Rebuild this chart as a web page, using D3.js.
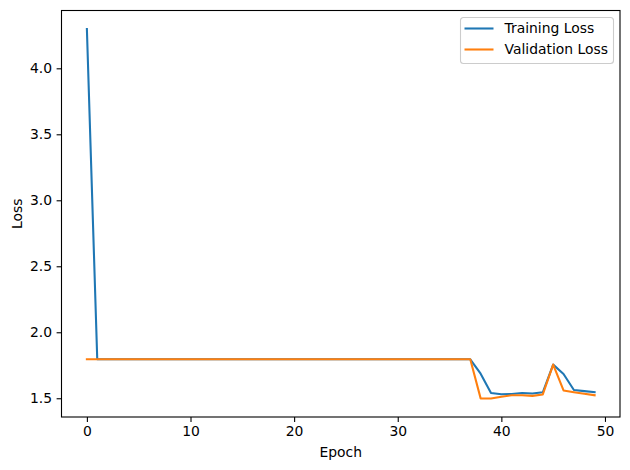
<!DOCTYPE html>
<html>
<head>
<meta charset="utf-8">
<script src="https://cdn.jsdelivr.net/npm/d3@7"></script>
<style>
  body { margin: 0; background: #fff; }
  svg text { font-family: "DejaVu Sans", sans-serif; fill: #000; }
</style>
</head>
<body>
<div id="chart"></div>
<script>
// loss per epoch
const epochs = [0,1,2,3,4,5,6,7,8,9,10,11,12,13,14,15,16,17,18,19,20,21,22,23,24,
  25,26,27,28,29,30,31,32,33,34,35,36,37,38,39,40,41,42,43,44,45,46,47,48,49];
const trainLoss = [4.298,1.795,1.795,1.795,1.795,1.795,1.795,1.795,1.795,1.795,
  1.795,1.795,1.795,1.795,1.795,1.795,1.795,1.795,1.795,1.795,
  1.795,1.795,1.795,1.795,1.795,1.795,1.795,1.795,1.795,1.795,
  1.795,1.795,1.795,1.795,1.795,1.795,1.795,1.795,1.686,1.540,
  1.530,1.532,1.540,1.536,1.545,1.755,1.684,1.563,1.554,1.546];
const valLoss = [1.795,1.795,1.795,1.795,1.795,1.795,1.795,1.795,1.795,1.795,
  1.795,1.795,1.795,1.795,1.795,1.795,1.795,1.795,1.795,1.795,
  1.795,1.795,1.795,1.795,1.795,1.795,1.795,1.795,1.795,1.795,
  1.795,1.795,1.795,1.795,1.795,1.795,1.795,1.795,1.499,1.498,
  1.511,1.523,1.523,1.518,1.529,1.755,1.559,1.546,1.534,1.523];
const xTicks = [0, 10, 20, 30, 40, 50];
const yTicks = [1.5, 2.0, 2.5, 3.0, 3.5, 4.0];
const seriesNames = ["Training Loss", "Validation Loss"];
const colors = ["#1f77b4", "#ff7f0e"];

const width = 630, height = 470;
const margin = {left: 61.5, right: 10, top: 10.5, bottom: 53};
const plotW = width - margin.left - margin.right;
const plotH = height - margin.top - margin.bottom;

const svg = d3.select("#chart").append("svg")
    .attr("width", width)
    .attr("height", height);

// matplotlib style 5% padding
const xExt = d3.extent(epochs);
const xPad = (xExt[1] - xExt[0]) * 0.05;
const allY = trainLoss.concat(valLoss);
const yExt = d3.extent(allY);
const yPad = (yExt[1] - yExt[0]) * 0.05;

const x = d3.scaleLinear()
    .domain([xExt[0] - xPad, xExt[1] + xPad])
    .range([margin.left, margin.left + plotW]);
const y = d3.scaleLinear()
    .domain([yExt[0] - yPad, yExt[1] + yPad])
    .range([margin.top + plotH, margin.top]);

const xAxis = svg.append("g")
    .attr("transform", `translate(0,${margin.top + plotH})`)
    .call(d3.axisBottom(x).tickValues(xTicks).tickSize(4.9).tickPadding(4.5).tickFormat(d3.format("d")));
const yAxis = svg.append("g")
    .attr("transform", `translate(${margin.left},0)`)
    .call(d3.axisLeft(y).tickValues(yTicks).tickSize(4.9).tickPadding(4.5).tickFormat(d3.format(".1f")));

for (const ax of [xAxis, yAxis]) {
    ax.select(".domain").remove();
    ax.selectAll(".tick line").attr("stroke", "#000").attr("stroke-width", 1.1);
    ax.selectAll(".tick text").attr("font-size", "13.9px").attr("fill", "#000");
}

const line = d3.line()
    .x((d, i) => x(epochs[i]))
    .y(d => y(d));

const series = [trainLoss, valLoss];
svg.append("g")
    .selectAll("path")
    .data(series)
    .enter()
    .append("path")
    .attr("d", line)
    .attr("fill", "none")
    .attr("stroke", (d, i) => colors[i])
    .attr("stroke-width", 2.08)
    .attr("stroke-linejoin", "round")
    .attr("stroke-linecap", "square");

// frame
svg.append("rect")
    .attr("x", margin.left)
    .attr("y", margin.top)
    .attr("width", plotW)
    .attr("height", plotH)
    .attr("fill", "none")
    .attr("stroke", "#000")
    .attr("stroke-width", 1.1);

svg.append("text")
    .attr("x", margin.left + plotW / 2)
    .attr("y", 457)
    .attr("text-anchor", "middle")
    .attr("font-size", "13.9px")
    .text("Epoch");

svg.append("text")
    .attr("transform", `translate(22,${margin.top + plotH / 2}) rotate(-90)`)
    .attr("text-anchor", "middle")
    .attr("font-size", "13.9px")
    .text("Loss");

// legend
const legend = svg.append("g").attr("transform", "translate(460.5,17.5)");
legend.append("rect")
    .attr("width", 153)
    .attr("height", 46)
    .attr("rx", 3)
    .attr("fill", "#fff")
    .attr("fill-opacity", 0.8)
    .attr("stroke", "#cccccc")
    .attr("stroke-width", 1.1);

const items = legend.selectAll(".item")
    .data(seriesNames)
    .enter()
    .append("g")
    .attr("class", "item")
    .attr("transform", (d, i) => `translate(0,${11 + i * 21})`);
items.append("line")
    .attr("x1", 4).attr("x2", 33)
    .attr("stroke", (d, i) => colors[i])
    .attr("stroke-width", 2.08);
items.append("text")
    .attr("x", 44)
    .attr("dy", "0.35em")
    .attr("font-size", "13.9px")
    .text(d => d);
</script>
</body>
</html>
